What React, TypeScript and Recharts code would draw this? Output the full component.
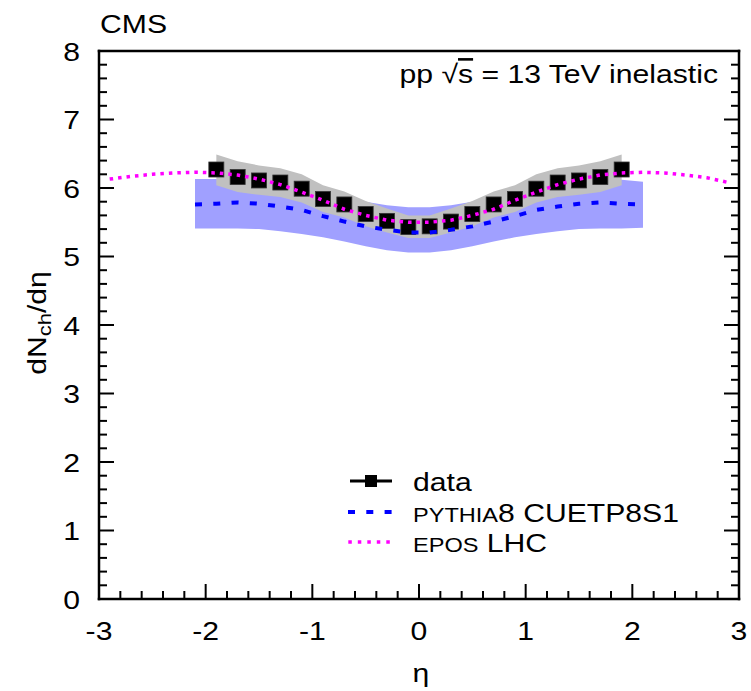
import React from 'react';
import { ComposedChart, Area, Line, XAxis, YAxis, Customized } from 'recharts';

// measured data, bin centres
const DATA_ETA = [-1.9, -1.7, -1.5, -1.3, -1.1, -0.9, -0.7, -0.5, -0.3, -0.1, 0.1, 0.3, 0.5, 0.7, 0.9, 1.1, 1.3, 1.5, 1.7, 1.9];
const DATA_DN = [6.27, 6.16, 6.11, 6.08, 5.99, 5.84, 5.76, 5.62, 5.52, 5.43, 5.44, 5.51, 5.62, 5.76, 5.84, 5.99, 6.08, 6.11, 6.16, 6.27];
const DATA_LO = [6.04, 5.94, 5.9, 5.87, 5.79, 5.65, 5.57, 5.44, 5.35, 5.27, 5.27, 5.35, 5.44, 5.57, 5.65, 5.79, 5.87, 5.9, 5.94, 6.04];
const DATA_HI = [6.49, 6.39, 6.33, 6.29, 6.2, 6.04, 5.95, 5.81, 5.7, 5.6, 5.6, 5.7, 5.81, 5.95, 6.04, 6.2, 6.29, 6.33, 6.39, 6.49];

// PYTHIA8 CUETP8S1 with its band
const PYTHIA_ETA = [-2.1, -1.9, -1.7, -1.5, -1.3, -1.1, -0.9, -0.7, -0.5, -0.3, -0.1, 0.1, 0.3, 0.5, 0.7, 0.9, 1.1, 1.3, 1.5, 1.7, 1.9, 2.1];
const PYTHIA_DN = [5.76, 5.77, 5.79, 5.77, 5.73, 5.68, 5.59, 5.51, 5.44, 5.39, 5.35, 5.35, 5.39, 5.44, 5.51, 5.59, 5.68, 5.73, 5.77, 5.79, 5.77, 5.76];
const PYTHIA_LO = [5.41, 5.41, 5.41, 5.4, 5.37, 5.33, 5.28, 5.22, 5.15, 5.09, 5.06, 5.06, 5.09, 5.15, 5.22, 5.28, 5.33, 5.37, 5.4, 5.41, 5.41, 5.42];
const PYTHIA_HI = [6.13, 6.13, 6.15, 6.13, 6.09, 6.04, 5.95, 5.87, 5.8, 5.75, 5.72, 5.72, 5.75, 5.8, 5.87, 5.95, 6.04, 6.09, 6.13, 6.15, 6.12, 6.09];

// EPOS LHC
const EPOS_ETA = [-2.9, -2.7, -2.5, -2.3, -2.1, -1.9, -1.7, -1.5, -1.3, -1.1, -0.9, -0.7, -0.5, -0.3, -0.1, 0.1, 0.3, 0.5, 0.7, 0.9, 1.1, 1.3, 1.5, 1.7, 1.9, 2.1, 2.3, 2.5, 2.7, 2.9];
const EPOS_DN = [6.13, 6.17, 6.2, 6.22, 6.23, 6.22, 6.19, 6.13, 6.05, 5.94, 5.82, 5.69, 5.6, 5.53, 5.5, 5.5, 5.53, 5.6, 5.69, 5.82, 5.94, 6.05, 6.13, 6.19, 6.22, 6.23, 6.22, 6.19, 6.15, 6.08];

const X_TICKS = Array.from({ length: 31 }, (_, i) => Math.round((-3 + i * 0.2) * 10) / 10);
const Y_TICKS = Array.from({ length: 41 }, (_, i) => Math.round(i * 2) / 10);

const dataRows = DATA_ETA.map((eta, i) => ({ eta, dn: DATA_DN[i], lo: DATA_LO[i], hi: DATA_HI[i] }));
const pythiaRows = PYTHIA_ETA.map((eta, i) => ({ eta, dn: PYTHIA_DN[i], lo: PYTHIA_LO[i], hi: PYTHIA_HI[i] }));
const eposRows = EPOS_ETA.map((eta, i) => ({ eta, dn: EPOS_DN[i] }));

const FONT = '"Liberation Sans", Arial, Helvetica, sans-serif';
const SX = 1.16;
const MAJOR = 15;
const MINOR = 8;

const isMajor = (v: number) => Math.abs(v - Math.round(v)) < 1e-6;

function Txt({ x, y, anchor = 'start', size = 26, rotate = 0, children }: any) {
  return (
    <text
      transform={`translate(${x},${y}) rotate(${rotate}) scale(${SX},1)`}
      textAnchor={anchor}
      fontFamily={FONT}
      fontSize={size}
      fill="#000"
    >
      {children}
    </text>
  );
}

function BottomTick({ x, y, payload }: any) {
  const m = isMajor(payload.value);
  return (
    <g>
      <line x1={x} x2={x} y1={y} y2={y - (m ? MAJOR : MINOR)} stroke="#000" strokeWidth={2} />
      {m && <Txt x={x} y={y + 41} anchor="middle">{String(Math.round(payload.value))}</Txt>}
    </g>
  );
}

function TopTick({ x, y, payload }: any) {
  const m = isMajor(payload.value);
  return <line x1={x} x2={x} y1={y} y2={y + (m ? MAJOR : MINOR)} stroke="#000" strokeWidth={2} />;
}

function LeftTick({ x, y, payload }: any) {
  const m = isMajor(payload.value);
  return (
    <g>
      <line x1={x} x2={x + (m ? MAJOR : MINOR)} y1={y} y2={y} stroke="#000" strokeWidth={2} />
      {m && <Txt x={x - 19} y={y + 9.5} anchor="end">{String(Math.round(payload.value))}</Txt>}
    </g>
  );
}

function RightTick({ x, y, payload }: any) {
  const m = isMajor(payload.value);
  return <line x1={x} x2={x - (m ? MAJOR : MINOR)} y1={y} y2={y} stroke="#000" strokeWidth={2} />;
}

function Square(p: any) {
  if (p.cx == null || p.cy == null) return <g key={p.index} />;
  return <rect key={p.index} x={p.cx - 7.5} y={p.cy - 7.5} width={15} height={15} fill="#000" stroke="#333" strokeWidth={0.8} />;
}

function Overlay() {
  return (
    <g>
      <Txt x={100} y={33}>CMS</Txt>
      <text transform={`translate(718,83) scale(${SX},1)`} textAnchor="end" fontFamily={FONT} fontSize={26} fill="#000">
        pp √<tspan textDecoration="overline">s</tspan> = 13 TeV inelastic
      </text>
      <text transform={`translate(46,323) rotate(-90) scale(${SX},1)`} textAnchor="middle" fontFamily={FONT} fontSize={26} fill="#000">
        dN<tspan fontSize={19} dy={5}>ch</tspan><tspan dy={-5}>/dη</tspan>
      </text>
      <Txt x={421} y={682} anchor="middle">η</Txt>

      {/* legend */}
      <line x1={350} x2={392} y1={481} y2={481} stroke="#000" strokeWidth={3} />
      <rect x={365} y={475} width={12} height={12} fill="#000" />
      <Txt x={413} y={491}>data</Txt>

      <line x1={348} x2={393} y1={512} y2={512} stroke="#0000ff" strokeWidth={4} strokeDasharray="7 11.3" />
      <text transform={`translate(413,522) scale(${SX},1)`} fontFamily={FONT} fontSize={26} fill="#000">
        <tspan fontSize={20.3}>PYTHIA</tspan>8 CUETP8S1
      </text>

      <line x1={348.3} x2={392} y1={542} y2={542} stroke="#ff00ff" strokeWidth={3.5} strokeDasharray="3.5 6" />
      <text transform={`translate(413,552) scale(${SX},1)`} fontFamily={FONT} fontSize={26} fill="#000">
        <tspan fontSize={20.3}>EPOS</tspan> LHC
      </text>
    </g>
  );
}

export default function App() {
  const axisLine = { stroke: '#000', strokeWidth: 2.5, strokeLinecap: 'square' as const };
  const lineProps: any = { zIndex: 2000 };
  return (
    <>
      <style>{'body{margin:0;overflow:hidden;background:#fff}'}</style>
      <ComposedChart width={751} height={691} margin={{ top: 0, right: 0, bottom: 0, left: 0 }}>
        <XAxis
          xAxisId="b"
          dataKey="eta"
          type="number"
          orientation="bottom"
          domain={[-3, 3]}
          ticks={X_TICKS}
          interval={0}
          height={92}
          tickSize={0}
          tickMargin={0}
          tickLine={false}
          axisLine={axisLine}
          tick={<BottomTick />}
          allowDataOverflow
        />
        <XAxis
          xAxisId="t"
          type="number"
          orientation="top"
          domain={[-3, 3]}
          ticks={X_TICKS}
          interval={0}
          height={51}
          tickSize={0}
          tickMargin={0}
          tickLine={false}
          axisLine={axisLine}
          tick={<TopTick />}
          allowDataOverflow
        />
        <YAxis
          yAxisId="l"
          type="number"
          orientation="left"
          domain={[0, 8]}
          ticks={Y_TICKS}
          interval={0}
          width={99}
          tickSize={0}
          tickMargin={0}
          tickLine={false}
          axisLine={axisLine}
          tick={<LeftTick />}
          allowDataOverflow
        />
        <YAxis
          yAxisId="r"
          type="number"
          orientation="right"
          domain={[0, 8]}
          ticks={Y_TICKS}
          interval={0}
          width={12}
          tickSize={0}
          tickMargin={0}
          tickLine={false}
          axisLine={axisLine}
          tick={<RightTick />}
          allowDataOverflow
        />

        <Area
          xAxisId="b"
          yAxisId="l"
          data={pythiaRows}
          dataKey={(d: any) => [d.lo, d.hi]}
          type="linear"
          stroke="none"
          fill="#a0a0ff"
          fillOpacity={1}
          isAnimationActive={false}
          activeDot={false}
        />
        <Area
          xAxisId="b"
          yAxisId="l"
          data={dataRows}
          dataKey={(d: any) => [d.lo, d.hi]}
          type="linear"
          stroke="none"
          fill="#c0c0c0"
          fillOpacity={1}
          isAnimationActive={false}
          activeDot={false}
        />
        <Line
          xAxisId="b"
          yAxisId="l"
          data={dataRows}
          dataKey="dn"
          stroke="none"
          dot={Square}
          activeDot={false}
          isAnimationActive={false}
        />
        <Line
          xAxisId="b"
          yAxisId="l"
          data={pythiaRows}
          dataKey="dn"
          type="linear"
          stroke="#0000ff"
          strokeWidth={4}
          strokeDasharray="7 11.3"
          dot={false}
          activeDot={false}
          isAnimationActive={false}
          {...lineProps}
        />
        <Line
          xAxisId="b"
          yAxisId="l"
          data={eposRows}
          dataKey="dn"
          type="linear"
          stroke="#ff00ff"
          strokeWidth={3.5}
          strokeDasharray="3.5 5"
          dot={false}
          activeDot={false}
          isAnimationActive={false}
          {...lineProps}
        />
        <Customized component={<Overlay />} />
      </ComposedChart>
    </>
  );
}
